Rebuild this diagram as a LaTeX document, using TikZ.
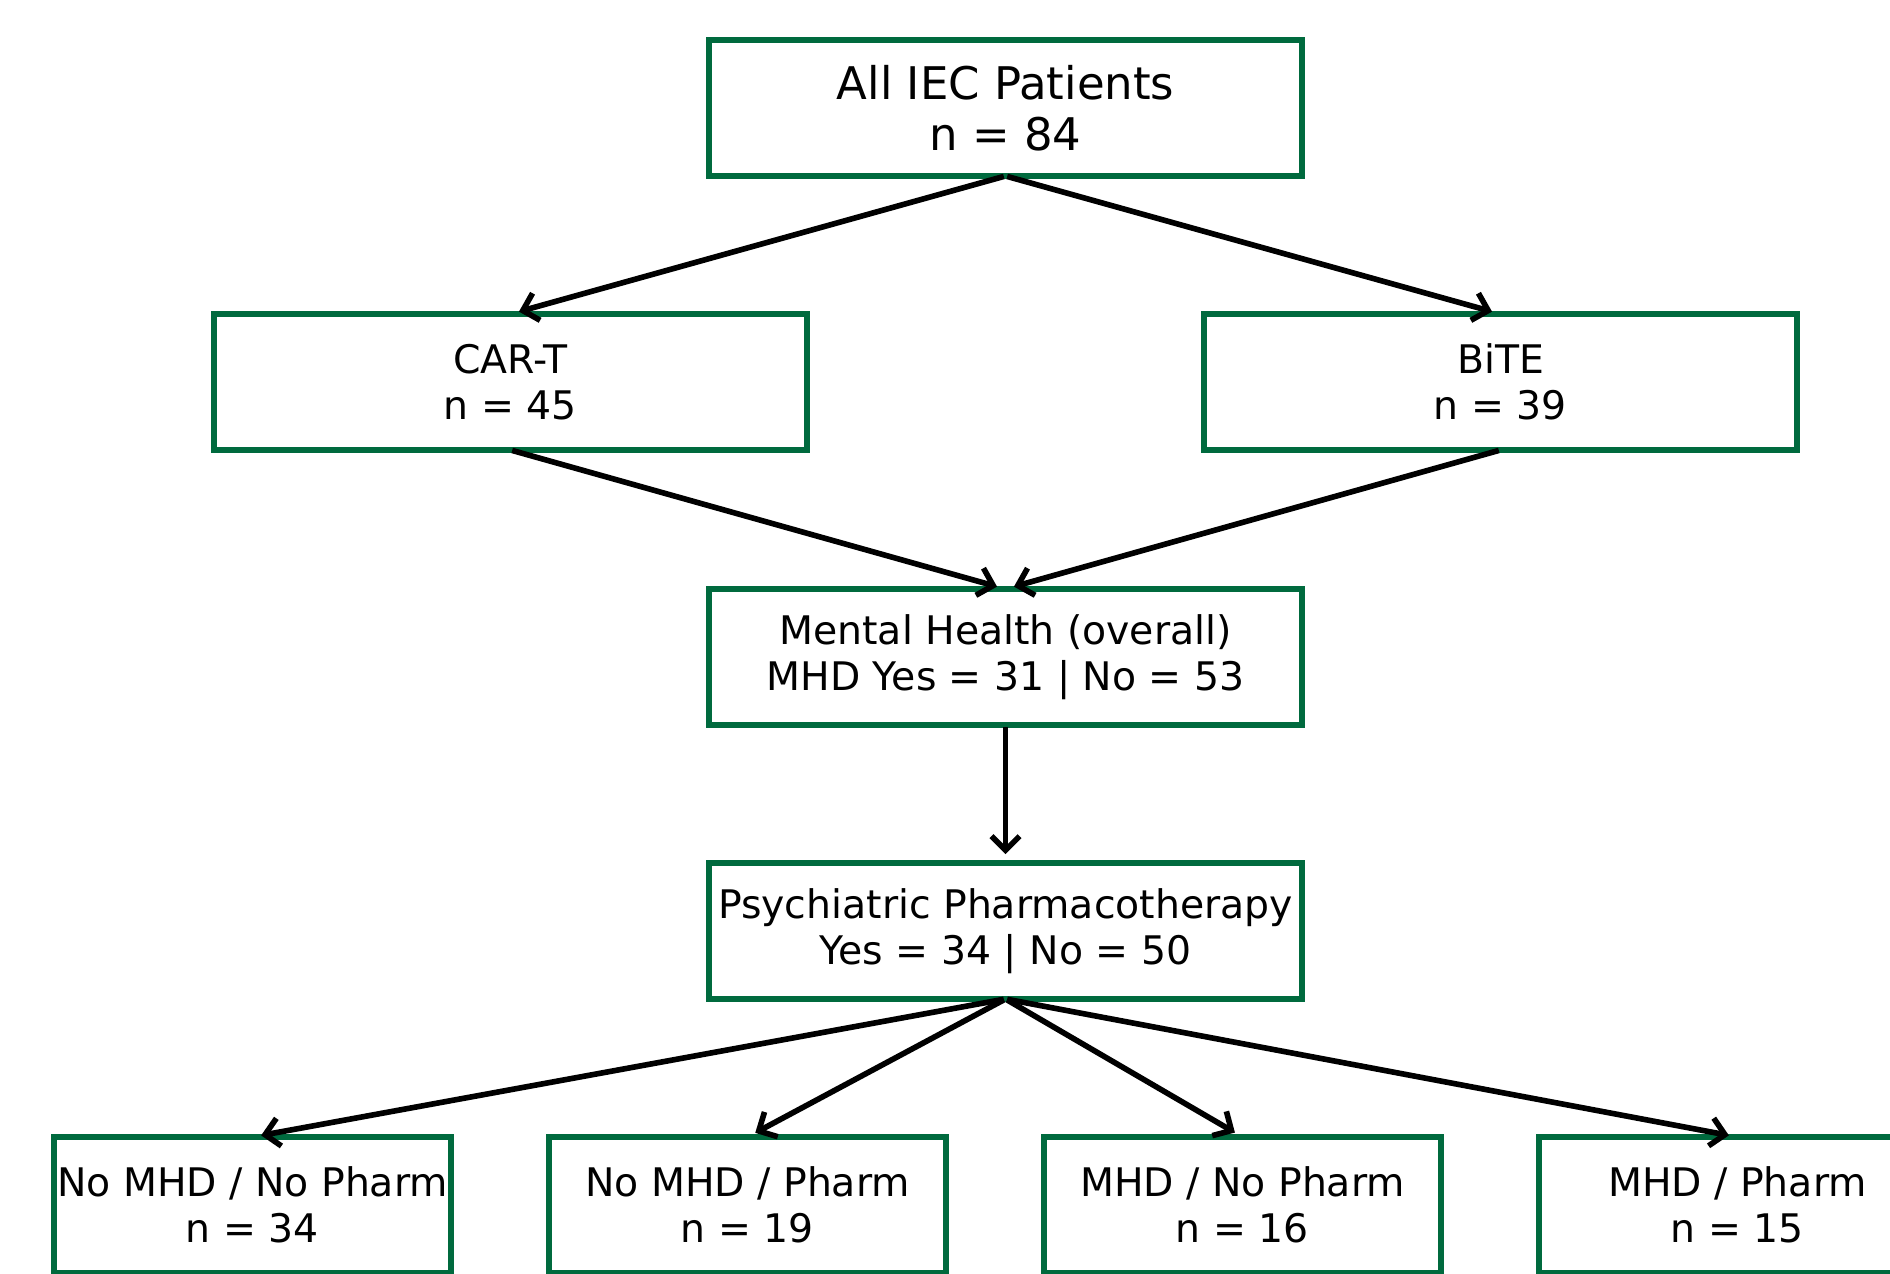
\documentclass[tikz,border=0pt]{standalone}
\usepackage{fontspec}
\setmainfont{DejaVu Sans}
\usepackage{xcolor}
\usetikzlibrary{arrows.meta,positioning}
\definecolor{iecgreen}{RGB}{0,106,62}

\begin{document}
\begin{tikzpicture}[
    >={Straight Barb[length=4pt,width=8pt]},
    box/.style={draw=iecgreen, line width=1.7pt, minimum width=#1, minimum height=1.36cm,
                inner sep=0pt, outer sep=0pt, align=center, font=\fontsize{11.2}{13.1}\selectfont},
    box/.default=5.93cm,
    arr/.style={->, line width=1.6pt, shorten >=2.5pt, shorten <=0.5pt},
]

% --- Canvas (bottom row runs off the page) ---
\useasboundingbox (0,0) rectangle (18.9,-12.74);
\clip (0,0) rectangle (18.9,-12.74);

% --- Nodes ---
\node[box, font=\fontsize{12.8}{14.6}\selectfont] (all) at (10.055,-1.08) {All IEC Patients\\n = 84};
\node[box, below=1.38cm of all, xshift=-4.95cm] (cart) {CAR-T\\n = 45};
\node[box, below=1.38cm of all, xshift=4.95cm] (bite) {BiTE\\n = 39};
\node[box, below=4.13cm of all] (mental) {Mental Health (overall)\\MHD Yes = 31 | No = 53};
\node[box, below=1.38cm of mental] (pharm) {Psychiatric Pharmacotherapy\\Yes = 34 | No = 50};

% Bottom row
\node[box=3.97cm, below=1.38cm of pharm, xshift=-7.53cm] (nomhdnoph) {No MHD / No Pharm\\n = 34};
\node[box=3.97cm, right=0.98cm of nomhdnoph] (nomhdph) {No MHD / Pharm\\n = 19};
\node[box=3.97cm, right=0.98cm of nomhdph] (mhdnoph) {MHD / No Pharm\\n = 16};
\node[box=3.97cm, right=0.98cm of mhdnoph] (mhdph) {MHD / Pharm\\n = 15};

% --- Arrows ---
\draw[arr] (all.south) -- (cart.north);
\draw[arr] (all.south) -- (bite.north);
\draw[arr] (cart.south) -- (mental.north);
\draw[arr] (bite.south) -- (mental.north);
\draw[arr] (mental.south) -- (pharm.north);
\draw[arr] (pharm.south) -- (nomhdnoph.north);
\draw[arr] (pharm.south) -- (nomhdph.north);
\draw[arr] (pharm.south) -- (mhdnoph.north);
\draw[arr] (pharm.south) -- (mhdph.north);

\end{tikzpicture}
\end{document}
